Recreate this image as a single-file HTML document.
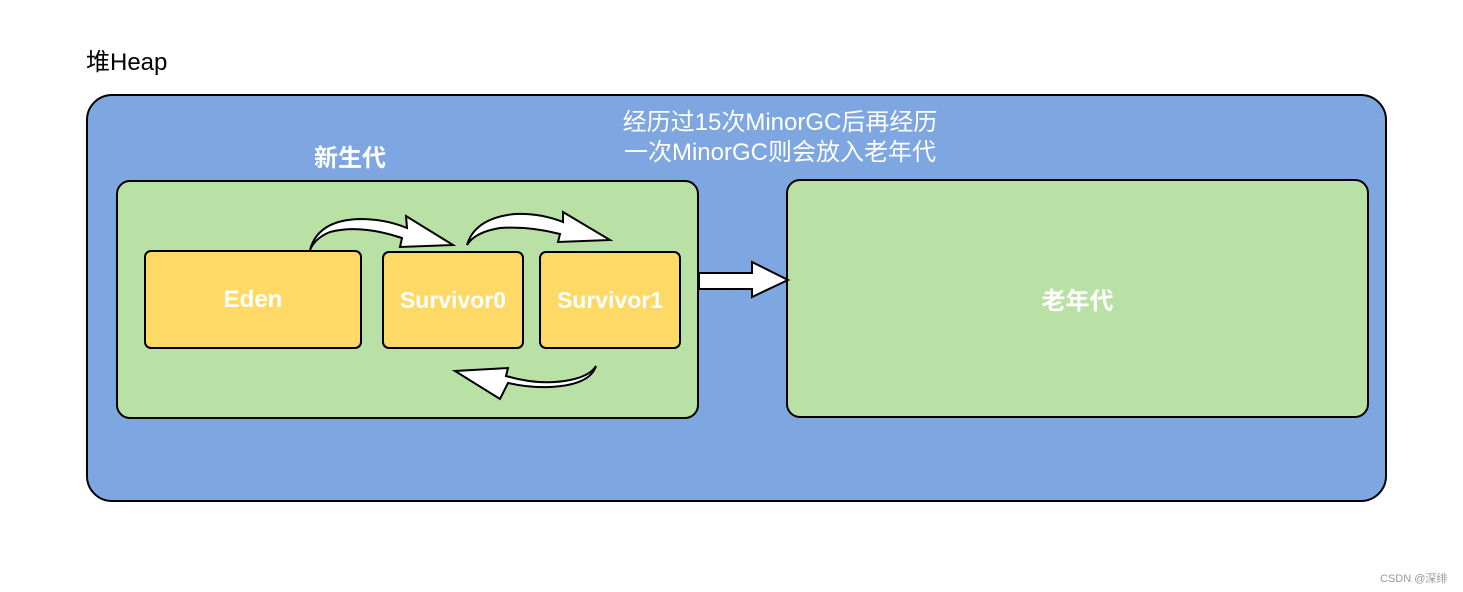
<!DOCTYPE html>
<html><head><meta charset="utf-8"><style>
body{margin:0;width:1463px;height:592px;background:#fff;overflow:hidden;position:relative;font-family:"Liberation Sans","Noto Sans CJK SC",sans-serif}
.a{position:absolute;box-sizing:border-box;border:2px solid #000}
.t{position:absolute;color:#fff;font-weight:bold;display:flex;align-items:center;justify-content:center;text-align:center}
</style></head><body>
<div style="position:absolute;left:86px;top:42px;font-size:24px;color:#000">堆Heap</div>
<div class="a" style="left:86px;top:94px;width:1301px;height:408px;background:#7ea6e0;border-radius:26px"></div>
<div class="t" style="left:560px;top:108px;width:440px;font-size:24px;font-weight:normal;line-height:30px">经历过15次MinorGC后再经历<br>一次MinorGC则会放入老年代</div>
<div class="t" style="left:290px;top:140px;width:120px;font-size:24px;height:30px">新生代</div>
<div class="a" style="left:116px;top:180px;width:583px;height:239px;background:#b9e0a5;border-radius:14px"></div>
<div class="a" style="left:786px;top:179px;width:583px;height:239px;background:#b9e0a5;border-radius:14px"></div>
<div class="t" style="left:786px;top:179px;width:583px;height:239px;font-size:24px">老年代</div>
<div class="a" style="left:144px;top:250px;width:218px;height:99px;background:#ffd966;border-radius:7px"></div>
<div class="t" style="left:144px;top:250px;width:218px;height:99px;font-size:24px">Eden</div>
<div class="a" style="left:382px;top:251px;width:142px;height:98px;background:#ffd966;border-radius:7px"></div>
<div class="t" style="left:382px;top:251px;width:142px;height:98px;font-size:23px">Survivor0</div>
<div class="a" style="left:539px;top:251px;width:142px;height:98px;background:#ffd966;border-radius:7px"></div>
<div class="t" style="left:539px;top:251px;width:142px;height:98px;font-size:23px">Survivor1</div>
<svg style="position:absolute;left:0;top:0" width="1463" height="592">
<g fill="#fff" stroke="#000" stroke-width="2" stroke-linejoin="miter">
<path d="M310,250 Q318,220 360,219 Q385,219 407,228 L406,216 L453,245 L400,247 L402,238 Q360,224 330,232 Q315,238 310,250 Z"/>
<path d="M467,245 Q475,218 515,214 Q540,213 563,222 L563,212 L610,240 L558,242 L560,234 Q530,226 500,228 Q475,232 467,245 Z"/>
<path d="M596,366 Q590,385 550,387 Q530,388 508,383 L500,399 L455,371 L508,368 L506,376 Q540,386 570,380 Q590,376 596,366 Z"/>
<path d="M699,273 L752,273 L752,262 L788,280 L752,297 L752,289 L699,289 Z"/>
</g></svg>
<div style="position:absolute;left:1380px;top:570px;font-size:11px;color:#999">CSDN @深绯</div>
</body></html>
